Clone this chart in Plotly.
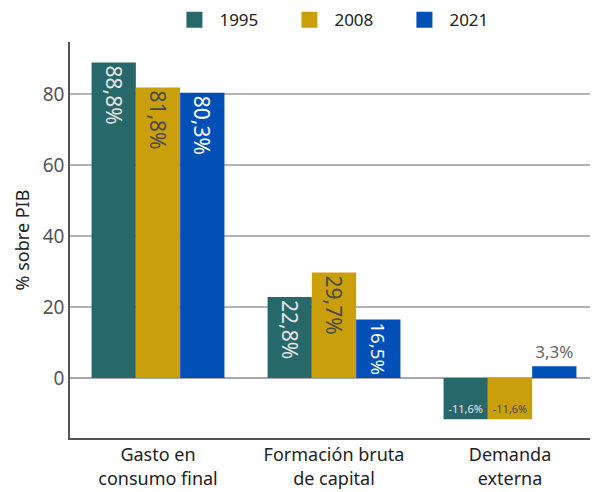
import plotly.graph_objects as go

categories = ["Gasto en<br>consumo final", "Formación bruta<br>de capital", "Demanda<br>externa"]
years = ["1995", "2008", "2021"]
v1995 = [88.8, 22.8, -11.6]
v2008 = [81.8, 29.7, -11.6]
v2021 = [80.3, 16.5, 3.3]
colors = {"1995": "#27686B", "2008": "#C9A00B", "2021": "#0050B8"}
text_colors = {"1995": "#E6E6E6", "2008": "#4A4A4A", "2021": "#FFFFFF"}
values = {"1995": v1995, "2008": v2008, "2021": v2021}

FONT = "Noto Sans"

def fmt(v):
    return f"{v:.1f}".replace(".", ",") + "%"

fig = go.Figure()
for y in years:
    vals = values[y]
    big = [v if v >= 10 else None for v in vals]
    small_neg = [v if v < 0 else None for v in vals]
    small_pos = [v if 0 <= v < 10 else None for v in vals]
    fig.add_trace(go.Bar(
        name=y, x=categories, y=big, offsetgroup=y, legendgroup=y,
        marker=dict(color=colors[y], line=dict(width=0)),
        text=[fmt(v) if v is not None else "" for v in big],
        textposition="inside", insidetextanchor="end", textangle=90,
        insidetextfont=dict(family=FONT, size=21, color=text_colors[y]),
        showlegend=False, hoverinfo="skip",
    ))
    if any(v is not None for v in small_neg):
        fig.add_trace(go.Bar(
            name=y, x=categories, y=small_neg, offsetgroup=y, legendgroup=y,
            marker=dict(color=colors[y], line=dict(width=0)),
            text=[fmt(v) if v is not None else "" for v in small_neg],
            textposition="inside", insidetextanchor="end", textangle=0,
            insidetextfont=dict(family=FONT, size=11, color=text_colors[y]),
            showlegend=False, hoverinfo="skip",
        ))
    if any(v is not None for v in small_pos):
        fig.add_trace(go.Bar(
            name=y, x=categories, y=small_pos, offsetgroup=y, legendgroup=y,
            marker=dict(color=colors[y], line=dict(width=0)),
            text=[fmt(v) if v is not None else "" for v in small_pos],
            textposition="outside", textangle=0,
            outsidetextfont=dict(family=FONT, size=17, color="#666666"),
            showlegend=False, hoverinfo="skip", cliponaxis=False,
        ))
    # legend entry
    fig.add_trace(go.Scatter(
        name=y, x=[None], y=[None], mode="markers", legendgroup=y,
        marker=dict(symbol="square", size=16, color=colors[y], line=dict(width=0)),
        showlegend=True, hoverinfo="skip",
    ))

fig.update_layout(
    width=590, height=484,
    margin=dict(l=62, r=0, t=34, b=54, autoexpand=False),
    paper_bgcolor="white", plot_bgcolor="white",
    barmode="group", bargap=0.245, bargroupgap=0,
    font=dict(family=FONT, size=16, color="#222222"),
    legend=dict(orientation="h", x=0.515, xanchor="center",
                yref="container", y=0.975, yanchor="middle",
                font=dict(family=FONT, size=17, color="#222222"),
                itemwidth=40, entrywidth=60, traceorder="normal"),
    xaxis=dict(showline=True, linecolor="#555555", linewidth=1.5, ticks="",
               tickfont=dict(family=FONT, size=18, color="#222222"), showgrid=False),
    yaxis=dict(range=[-16.9, 94.6], tickvals=[0, 20, 40, 60, 80],
               showline=True, linecolor="#555555", linewidth=1.5,
               showgrid=True, gridcolor="#B4B4B4", gridwidth=1.5,
               zeroline=True, zerolinecolor="#A8A8A8", zerolinewidth=2,
               tickfont=dict(family=FONT, size=19, color="#555555"),
               title=dict(text="% sobre PIB", font=dict(family=FONT, size=18, color="#222222"), standoff=8)),
)

fig.write_html("out.html")
